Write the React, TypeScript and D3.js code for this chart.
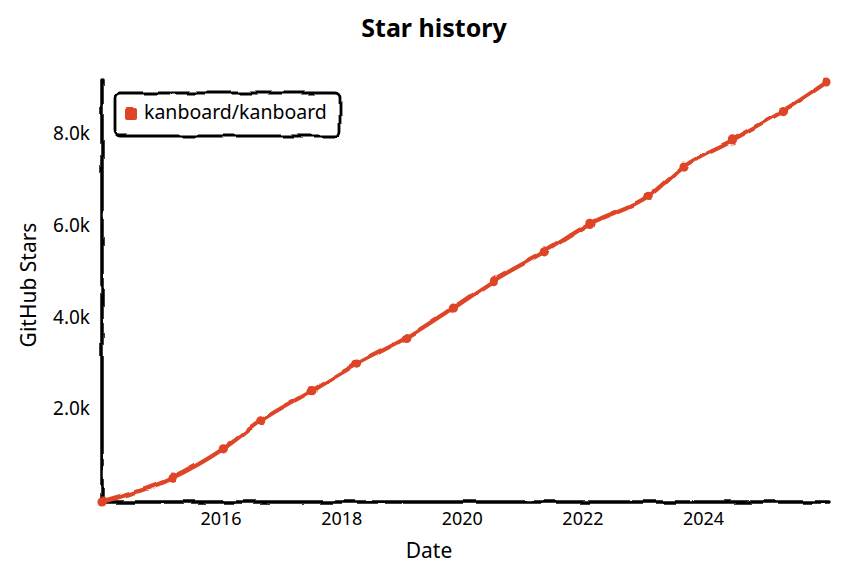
import React from 'react';
import * as d3 from 'd3';

const dates = [
  '2014-01-10', '2015-03-10', '2016-01-15', '2016-08-28', '2017-07-05', '2018-04-01',
  '2019-01-30', '2019-11-02', '2020-07-08', '2021-05-12', '2022-02-17', '2023-02-06',
  '2023-09-05', '2024-06-24', '2025-04-23', '2026-01-18',
];
const stars = [0, 520, 1160, 1770, 2430, 3010, 3590, 4230, 4830, 5460, 6080, 6690, 7330, 7900, 8520, 9165];
const xTickYears = [2016, 2018, 2020, 2022, 2024];
const yTickValues = [2000, 4000, 6000, 8000];
const seriesName = 'kanboard/kanboard';
const title = 'Star history';
const xLabel = 'Date';
const yLabel = 'GitHub Stars';
const color = '#dd4528';

const FONT = "'Noto Sans', 'DejaVu Sans', sans-serif";

export default function App() {
  const parse = d3.timeParse('%Y-%m-%d');
  const data = dates.map((d, i) => ({ date: parse(d) as Date, value: stars[i] }));
  const left = 102, right = 827, top = 82, bottom = 502;
  const x = d3.scaleTime()
    .domain(d3.extent(data, d => d.date) as [Date, Date])
    .range([left, right]);
  const y = d3.scaleLinear()
    .domain([0, d3.max(stars) as number])
    .range([bottom, top]);
  const line = d3.line<{ date: Date; value: number }>()
    .x(d => x(d.date))
    .y(d => y(d.value))
    .curve(d3.curveMonotoneX);
  const fmt = (v: number) => (v / 1000).toFixed(1) + 'k';

  return (
    <svg width={850} height={564} style={{ position: 'absolute', left: 0, top: 0, background: '#fff' }}
      fontFamily={FONT}>
      <defs>
        <filter id="xkcdify" filterUnits="userSpaceOnUse" x={0} y={0} width={850} height={564}>
          <feTurbulence type="fractalNoise" baseFrequency="0.05" result="noise" />
          <feDisplacementMap scale="5" xChannelSelector="R" yChannelSelector="G" in="SourceGraphic" in2="noise" />
        </filter>
      </defs>
      <text x={434} y={30} textAnchor="middle" dominantBaseline="middle" fontSize={25} fontWeight="bold" fill="#000">{title}</text>

      {/* axes */}
      <g filter="url(#xkcdify)">
        <line x1={left} x2={left} y1={80} y2={bottom} stroke="#000" strokeWidth={3.5} strokeLinecap="round" />
        <line x1={left} x2={829} y1={bottom} y2={bottom} stroke="#000" strokeWidth={3.5} strokeLinecap="round" />
      </g>
      {yTickValues.map(v => (
        <text key={v} x={90} y={y(v)} textAnchor="end" dominantBaseline="middle" fontSize={19} fill="#000">{fmt(v)}</text>
      ))}
      {xTickYears.map(yr => (
        <text key={yr} x={x(new Date(yr, 0, 1))} y={520} textAnchor="middle" dominantBaseline="middle" fontSize={18} fill="#000">{yr}</text>
      ))}
      <text x={429} y={552} textAnchor="middle" dominantBaseline="middle" fontSize={21} fill="#000">{xLabel}</text>
      <text transform="translate(30,285) rotate(-90)" textAnchor="middle" dominantBaseline="middle" fontSize={21} fill="#000">{yLabel}</text>

      {/* series */}
      <g filter="url(#xkcdify)">
        <path d={line(data) || ''} fill="none" stroke={color} strokeWidth={4.2} strokeLinejoin="round" strokeLinecap="round" />
        {data.map((d, i) => (
          <circle key={i} cx={x(d.date)} cy={y(d.value)} r={4.6} fill={color} />
        ))}
      </g>

      {/* legend */}
      <g filter="url(#xkcdify)">
        <rect x={115} y={93} width={225} height={43} rx={5} ry={5} fill="#fff" stroke="#000" strokeWidth={2.8} />
      </g>
      <rect x={125} y={108} width={12} height={12} rx={2} fill={color} filter="url(#xkcdify)" />
      <text x={144} y={114} dominantBaseline="middle" fontSize={19.5} fill="#000">{seriesName}</text>
    </svg>
  );
}
